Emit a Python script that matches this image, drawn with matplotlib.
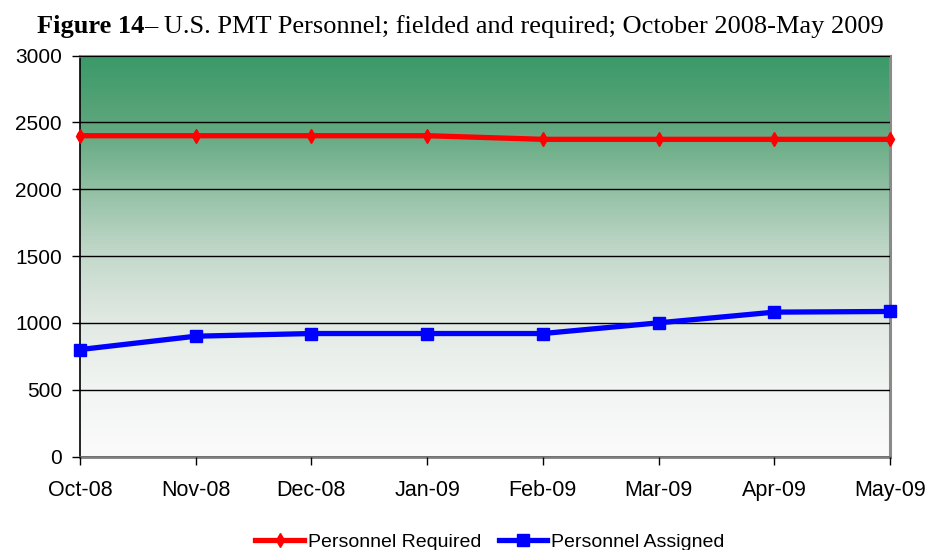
import matplotlib.pyplot as plt
import numpy as np
from matplotlib.colors import LinearSegmentedColormap

months = ['Oct-08', 'Nov-08', 'Dec-08', 'Jan-09', 'Feb-09', 'Mar-09', 'Apr-09', 'May-09']
required = [2400, 2400, 2400, 2400, 2373, 2373, 2373, 2373]
assigned = [800, 900, 920, 920, 920, 1000, 1080, 1085]

yticks = [0, 500, 1000, 1500, 2000, 2500, 3000]

plt.rcParams['font.family'] = ['Liberation Sans', 'DejaVu Sans']

fig = plt.figure(figsize=(9.29, 5.5), dpi=100)
ax = fig.add_axes([80 / 929, 1 - 456.5 / 550, 810 / 929, 401 / 550])

# background gradient, light at bottom, dark green at top
bg = LinearSegmentedColormap.from_list('bg', [
    (0.0, '#fbfbfb'), (0.17, '#f1f4f2'), (0.33, '#e2eae4'),
    (0.5, '#c4d9cb'), (0.67, '#90bfa3'), (0.83, '#5da67c'), (1.0, '#3a9968')])
grad = np.linspace(0, 1, 256).reshape(-1, 1)
ax.imshow(grad, cmap=bg, origin='lower', aspect='auto',
          extent=[0, 1, 0, 1], transform=ax.transAxes, zorder=0)

x = np.arange(len(months))
ax.plot(x, required, color='#ff0000', lw=3.8, marker='d', markersize=7,
        label='Personnel Required', clip_on=False, zorder=4)
ax.plot(x, assigned, color='#0000ff', lw=3.8, marker='s', markersize=8,
        label='Personnel Assigned', clip_on=False, zorder=4)

ax.set_xlim(0, len(months) - 1)
ax.set_ylim(0, 3000)
ax.set_yticks(yticks)
ax.set_xticks(x)
ax.set_xticklabels(months)
ax.yaxis.grid(True, color='black', lw=1.0)
ax.set_axisbelow(False)
for gl in ax.get_ygridlines():
    gl.set_zorder(2)

ax.tick_params(axis='both', length=6, width=1, color='black', direction='out')
ax.tick_params(axis='y', pad=7, labelsize=15)
ax.tick_params(axis='x', pad=11, labelsize=15.5)

ax.spines['left'].set_color('black')
ax.spines['left'].set_linewidth(1.2)
ax.spines['bottom'].set_color('#808080')
ax.spines['bottom'].set_linewidth(2)
for s in ['top', 'right']:
    ax.spines[s].set_color('#8a8a8a')
    ax.spines[s].set_linewidth(2.2)

# title in two pieces: bold figure number then regular text
t1 = fig.text(37 / 929, 1 - 33 / 550, 'Figure 14', fontsize=19,
              fontweight='bold', family='Liberation Serif', va='baseline')
ax.annotate('\u2013 U.S. PMT Personnel; fielded and required; October 2008-May 2009',
            xy=(1, 0), xycoords=t1, va='bottom', ha='left',
            fontsize=19, family='Liberation Serif', annotation_clip=False)

fig.legend(loc='center', bbox_to_anchor=(490 / 929, 1 - 542 / 550), ncol=2,
           frameon=False, fontsize=14, handlelength=2.5, columnspacing=0.9,
           handletextpad=0.2)

fig.savefig('out.png', dpi=100)
